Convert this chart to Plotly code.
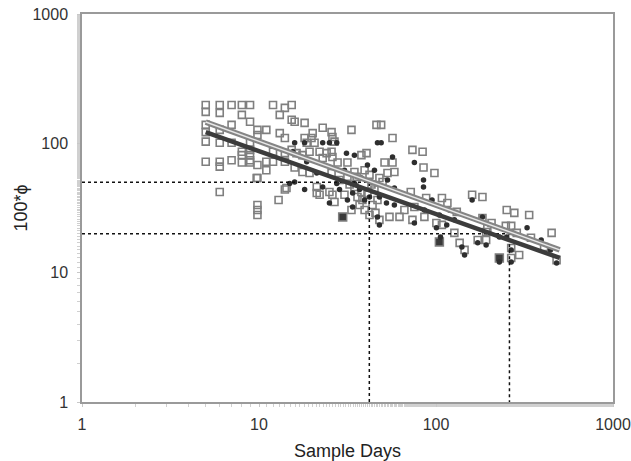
import plotly.graph_objects as go

# Gray open squares (sample days, 100*phi)
sq_x = [5, 5, 5, 5, 5, 5,
        6, 6, 6, 6, 6, 6, 6,
        7, 7, 7, 7,
        8, 8, 8, 8, 8,
        8.9, 8.9, 8.9, 8.9, 8.9, 8.9, 8.9,
        9.8, 9.8, 9.8, 9.8, 9.8, 9.8, 9.8,
        11, 11, 11, 12, 12, 12, 13.1, 13.1, 12.9,
        14, 14, 14, 14, 14, 15.3, 15.3, 15.3, 14.3, 9.7,
        15.9, 18.1, 20.1, 19.8, 22.9, 25.7, 26.0, 26.7, 33.3, 18.1, 18.6, 20.6,
        16.3, 17.6, 19.3, 22.0, 24.1, 25.7, 26.0, 22.9, 27.8, 31.6, 37.9, 40.5,
        17.6, 19.3, 15.9, 25.7, 25.0, 26.0, 28.5, 31.6, 35.6, 34.6, 36.0, 37.9,
        38.4, 33.3, 46.1, 21.2, 21.2, 22.0, 26.7,
        49, 56.8, 73.6, 84, 85, 98, 51.2, 56.8, 58.2, 53.2, 47.9, 49.9, 72, 88,
        108, 116, 131, 75.5, 54.6, 62.2, 47.9, 73.6, 86, 100.5, 108, 127,
        160, 183, 251, 277, 336, 450, 206, 183, 192, 172, 192, 248, 266, 286,
        344, 266, 295, 266, 408, 480, 195,
        39.5, 42.1, 43.2, 41, 44.9, 37, 39.5, 43.8, 46.7, 34.6, 32.5, 30.4,
        45.5, 42.1, 66.3, 136, 145]
sq_y = [198, 175, 139, 122, 103, 72,
        198, 172, 127, 101, 72, 66, 42,
        198, 139, 101, 74,
        198, 166, 86, 81, 71,
        198, 147, 101, 89, 81, 74, 71,
        127, 116, 68, 54, 33.4, 30.5, 27.9,
        127, 72, 62, 198, 86, 72, 166, 120, 36.5,
        188, 110, 84, 72, 44, 198, 152, 89, 45.2, 54,
        147, 144, 120, 110, 132, 122, 112, 103, 127, 110, 101, 101,
        84, 81, 86, 86, 84, 86, 78.5, 77, 71, 71, 81, 84,
        60, 59, 65, 59, 42, 40, 52, 55, 55, 46, 38.5, 42,
        36.5, 30.5, 139, 46, 41.3, 40, 35.2,
        139, 110, 89, 86, 65, 59, 71, 71, 60, 59, 54, 50.3, 42, 37.8,
        37.8, 34.6, 29.5, 32.2, 27, 27, 25.6, 25.6, 27, 24.2, 23.4, 20.3,
        40, 38.5, 30.5, 29, 27.9, 20.3, 24.2, 26.5, 20.6, 17.9, 17.9, 23, 23, 20.3,
        18.6, 15.5, 13.7, 13.0, 15.8, 12.5, 22.2,
        62, 57, 48, 40, 44, 33.4, 30.5, 33.4, 36.5, 60, 48, 40,
        29, 27.9, 30.5, 17, 15]

# Dark filled squares
dsq_x = [29.7, 104.5, 228]
dsq_y = [27.0, 17.3, 13.0]

# Dark filled dots
dot_x = [15.9, 18.1, 22.9, 25, 27.5, 15.5, 18.6, 31.2, 34.6, 46.7, 15.9, 18.1,
         21.2, 22.9, 25, 31.6, 33.8, 34.6, 41, 43.2, 42.1, 33.8, 14.9, 27.5,
         49, 56.8, 75.5, 85, 85, 53.2, 58.2, 47.9, 52.5, 58.2, 95, 86, 104.5,
         119, 127, 47.9, 75.5, 100.5, 106, 115, 46.7,
         160, 183, 327, 228, 251, 172, 192, 266, 443, 480, 228, 266, 393,
         37, 39.5, 44.9, 37.9, 30.4, 28.5, 145, 140]
dot_y = [101, 101, 101, 101, 101, 86, 72, 84, 81, 101, 50.3, 44,
         59, 46, 34.6, 36.5, 32.2, 49, 68, 50.3, 38.5, 41.3, 49, 49,
         101, 78.5, 71, 52, 46, 52, 45.2, 38.5, 34.6, 33.4, 36.5, 30.5, 27.9,
         30.5, 25.6, 23.4, 24.2, 22.2, 18.9, 23.4, 27,
         36.5, 27, 22.2, 18.9, 18.9, 17, 16.4, 15, 15, 11.9, 12.1, 12.1, 17.9,
         44, 36.5, 62, 54, 62, 44, 13.7, 15.8]

# Regression lines
fit_x = [5, 500]
fit_upper_y = [146, 15]
fit_lower_y = [122, 13]

# Dotted reference lines (thresholds)
ref1_x = [1, 42, 42]
ref1_y = [50, 50, 1]
ref2_x = [1, 260, 260]
ref2_y = [20, 20, 1]

FONT = "Liberation Sans, Arial, sans-serif"

fig = go.Figure()
fig.add_trace(go.Scatter(x=sq_x, y=sq_y, mode="markers",
                         marker=dict(symbol="square-open", size=7, color="#7f7f7f",
                                     line=dict(width=1.6, color="#7f7f7f")),
                         hoverinfo="skip"))
fig.add_trace(go.Scatter(x=dsq_x, y=dsq_y, mode="markers",
                         marker=dict(symbol="square", size=8, color="#3a3a3a",
                                     line=dict(width=1.5, color="#7f7f7f")),
                         hoverinfo="skip"))
fig.add_trace(go.Scatter(x=dot_x, y=dot_y, mode="markers",
                         marker=dict(symbol="circle", size=5.5, color="#2e2e2e"),
                         hoverinfo="skip"))
for rx, ry in ((ref1_x, ref1_y), (ref2_x, ref2_y)):
    fig.add_trace(go.Scatter(x=rx, y=ry, mode="lines",
                             line=dict(color="#111111", width=1.5, dash="dot"),
                             hoverinfo="skip"))
fig.add_trace(go.Scatter(x=fit_x, y=fit_upper_y, mode="lines",
                         line=dict(color="#858585", width=5.5), hoverinfo="skip"))
fig.add_trace(go.Scatter(x=fit_x, y=fit_upper_y, mode="lines",
                         line=dict(color="#e8e8e8", width=1.5), hoverinfo="skip"))
fig.add_trace(go.Scatter(x=fit_x, y=fit_lower_y, mode="lines",
                         line=dict(color="#3c3c3c", width=4.5), hoverinfo="skip"))

axis_common = dict(
    type="log", range=[0, 3], showgrid=False, zeroline=False, automargin=False,
    showline=True, linecolor="#9a9a9a", linewidth=1.5, mirror=True,
    ticks="outside", ticklen=3, tickcolor="#c8c8c8",
    minor=dict(ticks="outside", ticklen=3, tickcolor="#d0d0d0", showgrid=False),
    tickvals=[1, 10, 100, 1000], ticktext=["1", "10", "100", "1000"],
    tickfont=dict(family=FONT, size=16, color="#333333"),
    ticklabeloverflow="allow",
)

fig.update_layout(
    width=631, height=461,
    margin=dict(l=82, r=18, t=14, b=59),
    paper_bgcolor="white", plot_bgcolor="white",
    showlegend=False,
    font=dict(family=FONT, color="#222222"),
    xaxis=dict(axis_common, ticklabelstandoff=4,
               title=dict(text="Sample Days", standoff=12,
                          font=dict(family=FONT, size=18, color="#222222"))),
    yaxis=dict(axis_common, ticklabelstandoff=6,
               title=dict(text="100*ϕ", standoff=0,
                          font=dict(family=FONT, size=18, color="#222222"))),
)

fig.write_html("out.html", config={"displayModeBar": False},
               post_script="document.body.style.margin='0';")
